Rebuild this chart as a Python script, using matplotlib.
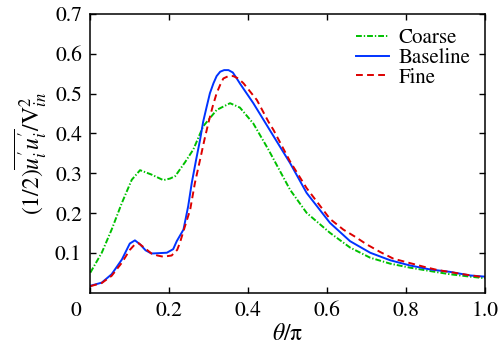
import numpy as np
import matplotlib
matplotlib.use("Agg")
import matplotlib.pyplot as plt
from matplotlib.transforms import ScaledTranslation

plt.rcParams['font.family'] = ['STIXGeneral', 'DejaVu Serif']
plt.rcParams['mathtext.fontset'] = 'stix'

# turbulent kinetic energy along the wall, three mesh resolutions
x_coarse = [0.0, 0.029, 0.054, 0.080, 0.105, 0.126, 0.155, 0.185, 0.202, 0.215,
            0.240, 0.261, 0.286, 0.320, 0.354, 0.379, 0.413, 0.451, 0.506, 0.548,
            0.607, 0.658, 0.709, 0.760, 0.810, 0.861, 0.911, 0.962, 1.0]
k_coarse = [0.051, 0.101, 0.159, 0.226, 0.284, 0.308, 0.297, 0.283, 0.287, 0.293,
            0.328, 0.360, 0.418, 0.459, 0.476, 0.465, 0.425, 0.360, 0.259, 0.201,
            0.151, 0.114, 0.0885, 0.0735, 0.0635, 0.055, 0.047, 0.041, 0.037]

x_base = [0.0, 0.029, 0.054, 0.080, 0.100, 0.113, 0.126, 0.140, 0.155, 0.175,
          0.194, 0.210, 0.219, 0.236, 0.248, 0.257, 0.268, 0.278, 0.286, 0.295,
          0.303, 0.312, 0.320, 0.329, 0.339, 0.350, 0.361, 0.371, 0.380, 0.413,
          0.460, 0.506, 0.548, 0.607, 0.658, 0.709, 0.760, 0.810, 0.861, 0.911,
          0.962, 1.0]
k_base = [0.018, 0.026, 0.047, 0.084, 0.124, 0.132, 0.122, 0.107, 0.099, 0.100,
          0.101, 0.110, 0.130, 0.159, 0.218, 0.276, 0.334, 0.384, 0.430, 0.468,
          0.501, 0.526, 0.544, 0.555, 0.559, 0.559, 0.553, 0.538, 0.524, 0.476,
          0.400, 0.326, 0.251, 0.176, 0.130, 0.101, 0.082, 0.069, 0.059, 0.053,
          0.044, 0.041]

x_fine = [0.0, 0.029, 0.054, 0.080, 0.100, 0.113, 0.122, 0.135, 0.155, 0.170,
          0.185, 0.206, 0.220, 0.227, 0.240, 0.253, 0.265, 0.278, 0.289, 0.299,
          0.310, 0.320, 0.329, 0.337, 0.350, 0.362, 0.375, 0.388, 0.422, 0.451,
          0.464, 0.506, 0.548, 0.607, 0.641, 0.671, 0.700, 0.734, 0.768, 0.806,
          0.844, 0.878, 0.945, 1.0]
k_fine = [0.017, 0.025, 0.043, 0.076, 0.108, 0.122, 0.125, 0.115, 0.099, 0.094,
          0.091, 0.094, 0.108, 0.126, 0.168, 0.209, 0.276, 0.334, 0.384, 0.426,
          0.468, 0.501, 0.522, 0.538, 0.544, 0.544, 0.538, 0.526, 0.484, 0.430,
          0.409, 0.330, 0.263, 0.186, 0.159, 0.141, 0.122, 0.103, 0.086, 0.076,
          0.066, 0.058, 0.047, 0.039]

xticks = [0, 0.2, 0.4, 0.6, 0.8, 1.0]
xticklabels = ['0', '0.2', '0.4', '0.6', '0.8', '1.0']
yticks = [0.1, 0.2, 0.3, 0.4, 0.5, 0.6, 0.7]
yticklabels = ['0.1', '0.2', '0.3', '0.4', '0.5', '0.6', '0.7']

fig = plt.figure(figsize=(4.99, 3.56), dpi=100)
ax = fig.add_axes([0.181, 0.177, 0.791, 0.784])

ax.plot(x_coarse, k_coarse, color='#00c000', lw=1.4, dashes=(3, 1, 0.7, 1), label='Coarse')
ax.plot(x_base, k_base, color='#0033ff', lw=1.4, label='Baseline')
ax.plot(x_fine, k_fine, color='#dd0000', lw=1.4, dashes=(3.5, 2.2), label='Fine')

ax.set_xlim(0, 1.0)
ax.set_ylim(0, 0.7)
ax.set_xticks(xticks)
ax.set_xticklabels(xticklabels)
ax.set_yticks(yticks)
ax.set_yticklabels(yticklabels)
ax.tick_params(direction='in', length=4.5, width=1.0, labelsize=15.5,
               top=True, right=True, pad=6)
for s in ax.spines.values():
    s.set_linewidth(1.1)

# shift the origin label to the left
lbl = ax.get_xticklabels()[0]
lbl.set_transform(lbl.get_transform() + ScaledTranslation(-0.14, 0, fig.dpi_scale_trans))

ax.set_xlabel(r"$\theta/$π", fontsize=17, labelpad=2)
ax.set_ylabel(r"$(1/2)\overline{u_i^{\prime} u_i^{\prime}}/\mathrm{V}_{in}^2$", fontsize=17, labelpad=4)

ax.legend(loc='upper right', frameon=False, fontsize=15, handlelength=1.6,
          labelspacing=0.0, handletextpad=0.45, borderaxespad=0.3)

fig.savefig('out.png', dpi=100)
